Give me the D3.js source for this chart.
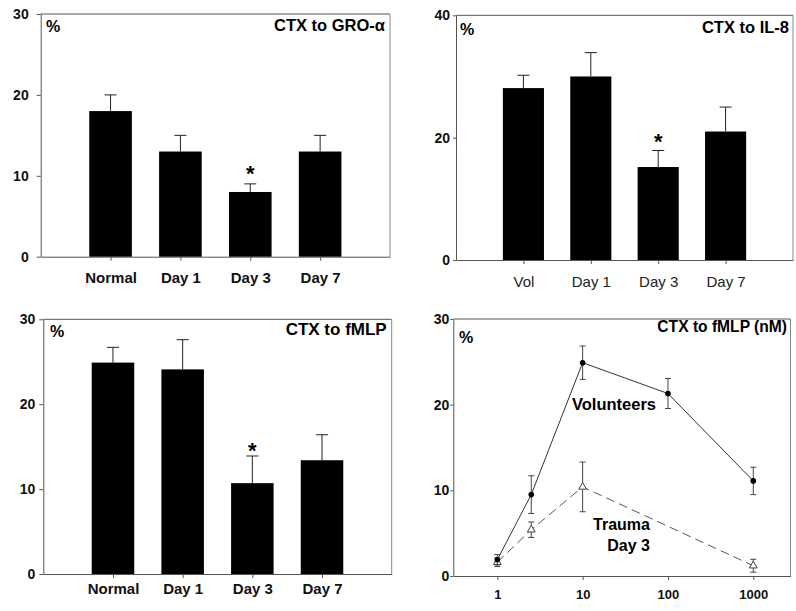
<!DOCTYPE html>
<html>
<head>
<meta charset="utf-8">
<script src="https://cdn.jsdelivr.net/npm/d3@7"></script>
<style>
  body { margin: 0; background: #fff; }
  text { font-family: "Liberation Sans", Arial, sans-serif; }
</style>
</head>
<body>
<div id="chart"></div>
<script>
// chemotaxis data
const groCats = ["Normal", "Day 1", "Day 3", "Day 7"];
const groMeans = [18, 13, 8, 13];
const groErr = [2, 2, 1, 2];
const groTicks = [0, 10, 20, 30];

const il8Cats = ["Vol", "Day 1", "Day 3", "Day 7"];
const il8Means = [28.1, 30, 15.2, 21];
const il8Err = [2.1, 3.9, 2.7, 4];
const il8Ticks = [0, 20, 40];

const fmlpCats = ["Normal", "Day 1", "Day 3", "Day 7"];
const fmlpMeans = [24.9, 24.1, 10.7, 13.4];
const fmlpErr = [1.8, 3.5, 3.2, 3];
const fmlpTicks = [0, 10, 20, 30];

const doses = [1, 2.5, 10, 100, 1000];
const volMeans = [1.9, 9.5, 24.9, 21.3, 11.1];
const volErr = [0.6, 2.2, 1.95, 1.75, 1.6];
const traumaDoses = [1, 2.5, 10, 1000];
const traumaMeans = [1.6, 5.4, 10.4, 1.2];
const traumaErr = [0.5, 0.9, 2.9, 0.75];
const doseTicks = [1, 10, 100, 1000];
const doseYTicks = [0, 10, 20, 30];

const starred = [2]; // Day 3 significant in all bar panels

const svg = d3.select("#chart").append("svg")
    .attr("width", 796)
    .attr("height", 611);

const axisColor = "#555";

function frame(g, x0, x1, y0, y1) {
    g.append("line").attr("x1", x0).attr("x2", x1).attr("y1", y0).attr("y2", y0)
        .attr("stroke", axisColor);
    g.append("line").attr("x1", x1).attr("x2", x1).attr("y1", y0).attr("y2", y1)
        .attr("stroke", "#888");
}

function styleAxis(g, size, weight, fill) {
    g.select(".domain").attr("stroke", axisColor);
    g.selectAll(".tick line").attr("stroke", axisColor);
    g.selectAll(".tick text")
        .attr("font-family", "'Liberation Sans', Arial, sans-serif")
        .attr("font-size", size)
        .attr("font-weight", weight)
        .attr("fill", fill);
}

function labels(g, p) {
    g.append("text")
        .attr("x", p.titleX).attr("y", p.titleY)
        .attr("text-anchor", "end")
        .attr("font-size", p.titleSize)
        .attr("font-weight", "bold")
        .text(p.title);
    g.append("text")
        .attr("x", p.pctX).attr("y", p.pctY)
        .attr("font-size", 16)
        .attr("font-weight", "bold")
        .text("%");
}

function barPanel(p, cats, means, errs, ticks) {
    const g = svg.append("g");
    const x = d3.scalePoint().domain(cats).range([p.left, p.right]).padding(1);
    const y = d3.scaleLinear().domain([0, d3.max(ticks)]).range([p.bottom, p.top]);
    const bw = x.step() * 0.61;

    frame(g, p.left, p.right, p.top, p.bottom);

    g.append("g")
        .attr("transform", `translate(${p.left},0)`)
        .call(d3.axisLeft(y).tickValues(ticks).tickSize(p.yTick).tickPadding(p.yPad).tickSizeOuter(0))
        .call(a => styleAxis(a, 14, "bold", "#111"));

    g.append("g")
        .attr("transform", `translate(0,${p.bottom})`)
        .call(d3.axisBottom(x).tickSize(4).tickPadding(p.xPad).tickSizeOuter(0))
        .call(a => styleAxis(a, 15, p.xWeight, p.xFill));

    // error bars (upper only)
    const eb = g.selectAll(".err").data(cats).enter().append("g");
    eb.append("line")
        .attr("x1", d => x(d)).attr("x2", d => x(d))
        .attr("y1", (d, i) => y(means[i])).attr("y2", (d, i) => y(means[i] + errs[i]))
        .attr("stroke", "#222");
    eb.append("line")
        .attr("x1", d => x(d) - 6).attr("x2", d => x(d) + 6)
        .attr("y1", (d, i) => y(means[i] + errs[i])).attr("y2", (d, i) => y(means[i] + errs[i]))
        .attr("stroke", "#222");

    g.selectAll(".bar").data(cats).enter().append("rect")
        .attr("x", d => x(d) - bw / 2)
        .attr("width", bw)
        .attr("y", (d, i) => y(means[i]))
        .attr("height", (d, i) => y(0) - y(means[i]))
        .attr("fill", "#000");

    g.selectAll(".star").data(starred).enter().append("text")
        .attr("x", i => x(cats[i]))
        .attr("y", i => y(means[i] + errs[i]) + p.starDy)
        .attr("text-anchor", "middle")
        .attr("font-size", 22)
        .attr("font-weight", "bold")
        .text("*");

    labels(g, p);
}

function dosePanel(p) {
    const g = svg.append("g");
    const x = d3.scaleLog().domain([0.305, 2730]).range([p.left, p.right]);
    const y = d3.scaleLinear().domain([0, 30]).range([p.bottom, p.top]);

    frame(g, p.left, p.right, p.top, p.bottom);

    g.append("g")
        .attr("transform", `translate(${p.left},0)`)
        .call(d3.axisLeft(y).tickValues(doseYTicks).tickSize(3).tickPadding(1).tickSizeOuter(0))
        .call(a => styleAxis(a, 14, "bold", "#111"));

    g.append("g")
        .attr("transform", `translate(0,${p.bottom})`)
        .call(d3.axisBottom(x).tickValues(doseTicks).tickFormat(d3.format("d"))
            .tickSize(4).tickPadding(10).tickSizeOuter(0))
        .call(a => styleAxis(a, 13, "bold", "#111"))
        .call(a => a.selectAll(".tick text")
            .attr("font-family", "'Liberation Sans Narrow', 'Liberation Sans', Arial, sans-serif"));

    const line = d3.line().x(d => x(d[0])).y(d => y(d[1]));

    function series(xs, ms, es, opts) {
        const pts = xs.map((d, i) => [d, ms[i], es[i]]);
        g.append("path")
            .datum(pts)
            .attr("fill", "none")
            .attr("stroke", opts.stroke)
            .attr("stroke-width", 1)
            .attr("stroke-dasharray", opts.dash)
            .attr("d", line);
        const eb = g.selectAll(".e" + opts.name).data(pts).enter().append("g");
        eb.append("line")
            .attr("x1", d => x(d[0])).attr("x2", d => x(d[0]))
            .attr("y1", d => y(d[1] - d[2])).attr("y2", d => y(d[1] + d[2]))
            .attr("stroke", "#444");
        [-1, 1].forEach(s => {
            eb.append("line")
                .attr("x1", d => x(d[0]) - 3).attr("x2", d => x(d[0]) + 3)
                .attr("y1", d => y(d[1] + s * d[2])).attr("y2", d => y(d[1] + s * d[2]))
                .attr("stroke", "#444");
        });
        if (opts.name === "vol") {
            g.selectAll(".m" + opts.name).data(pts).enter().append("circle")
                .attr("cx", d => x(d[0])).attr("cy", d => y(d[1]))
                .attr("r", 2.8).attr("fill", "#000");
        } else {
            g.selectAll(".m" + opts.name).data(pts).enter().append("path")
                .attr("transform", d => `translate(${x(d[0])},${y(d[1])})`)
                .attr("d", d3.symbol(d3.symbolTriangle, 26))
                .attr("fill", "#fff").attr("stroke", "#444");
        }
    }

    series(traumaDoses, traumaMeans, traumaErr, { name: "tr", stroke: "#555", dash: "9,5" });
    series(doses, volMeans, volErr, { name: "vol", stroke: "#333", dash: null });

    g.append("text").attr("x", 614).attr("y", 410)
        .attr("text-anchor", "middle").attr("font-size", 16.5).attr("font-weight", "bold")
        .text("Volunteers");
    g.append("text").attr("x", 650).attr("y", 530)
        .attr("text-anchor", "end").attr("font-size", 16).attr("font-weight", "bold")
        .text("Trauma");
    g.append("text").attr("x", 650).attr("y", 551)
        .attr("text-anchor", "end").attr("font-size", 16).attr("font-weight", "bold")
        .text("Day 3");

    labels(g, p);
}

barPanel({
    left: 40.7, right: 390, top: 14, bottom: 256.7,
    yTick: 4, yPad: 8, xPad: 11.3, xWeight: "bold", xFill: "#111", starDy: -3,
    title: "CTX to GRO-α", titleX: 385, titleY: 31, titleSize: 16.5,
    pctX: 46, pctY: 32
}, groCats, groMeans, groErr, groTicks);

barPanel({
    left: 456, right: 793, top: 15.3, bottom: 260,
    yTick: 3, yPad: 3, xPad: 12, xWeight: "normal", xFill: "#222", starDy: -1,
    title: "CTX to IL-8", titleX: 789, titleY: 33, titleSize: 16.5,
    pctX: 460, pctY: 35
}, il8Cats, il8Means, il8Err, il8Ticks);

barPanel({
    left: 43.3, right: 391.7, top: 319.3, bottom: 574,
    yTick: 4, yPad: 4, xPad: 5.4, xWeight: "bold", xFill: "#111", starDy: 2,
    title: "CTX to fMLP", titleX: 386.7, titleY: 335, titleSize: 17,
    pctX: 50, pctY: 336.7
}, fmlpCats, fmlpMeans, fmlpErr, fmlpTicks);

dosePanel({
    left: 453.3, right: 790.5, top: 319, bottom: 576,
    title: "CTX to fMLP (nM)", titleX: 787, titleY: 331.5, titleSize: 15.6,
    pctX: 459, pctY: 342.7
});
</script>
</body>
</html>
